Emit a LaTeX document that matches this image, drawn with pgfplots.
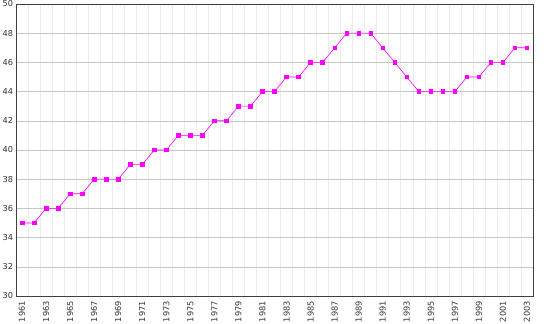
\documentclass[border=0pt]{standalone}
\usepackage{fontspec}
\setmainfont{DejaVu Sans}
\usepackage{pgfplots}
\pgfplotsset{compat=1.18}
\begin{document}
\begin{tikzpicture}
\path[use as bounding box] (-16pt,-28pt) rectangle (534pt,296pt);
\begin{axis}[
  at={(0pt,0pt)}, anchor=south west,
  scale only axis, width=517pt, height=292pt,
  xmin=1960.5, xmax=2003.5, ymin=30, ymax=50,
  xtick={1961,1963,...,2003},
  minor xtick={1961.5,1962.5,...,2002.5},
  ytick={30,32,...,50},
  /pgf/number format/assume math mode=true,
  /pgf/number format/1000 sep={},
  xticklabel style={rotate=90, anchor=east, font=\fontsize{8.2}{9}\selectfont, text=black!80, inner sep=0pt, xshift=-5pt},
  yticklabel style={anchor=east, font=\fontsize{8.2}{9}\selectfont, text=black!80, inner sep=0pt, xshift=-2.7pt},
  ymajorgrids, xminorgrids,
  minor grid style={gray!15, line width=0.5pt},
  major grid style={gray!45, line width=0.5pt},
  axis line style={black!75, line width=0.8pt},
  tick pos=left, tick align=inside,
  major tick length=0pt, minor tick length=0pt,
  xtick style={draw=none},
  ytick style={draw=none},
  clip=false,
]
\addplot[color={rgb,255:red,255;green,0;blue,255}, line width=0.6pt, mark=square*, mark size=1.8pt,
  mark options={fill={rgb,255:red,255;green,0;blue,255}}] coordinates {
(1961,35)(1962,35)(1963,36)(1964,36)(1965,37)(1966,37)(1967,38)(1968,38)(1969,38)
(1970,39)(1971,39)(1972,40)(1973,40)(1974,41)(1975,41)(1976,41)(1977,42)(1978,42)
(1979,43)(1980,43)(1981,44)(1982,44)(1983,45)(1984,45)(1985,46)(1986,46)(1987,47)
(1988,48)(1989,48)(1990,48)(1991,47)(1992,46)(1993,45)(1994,44)(1995,44)(1996,44)
(1997,44)(1998,45)(1999,45)(2000,46)(2001,46)(2002,47)(2003,47)};
\end{axis}
\end{tikzpicture}
\end{document}
